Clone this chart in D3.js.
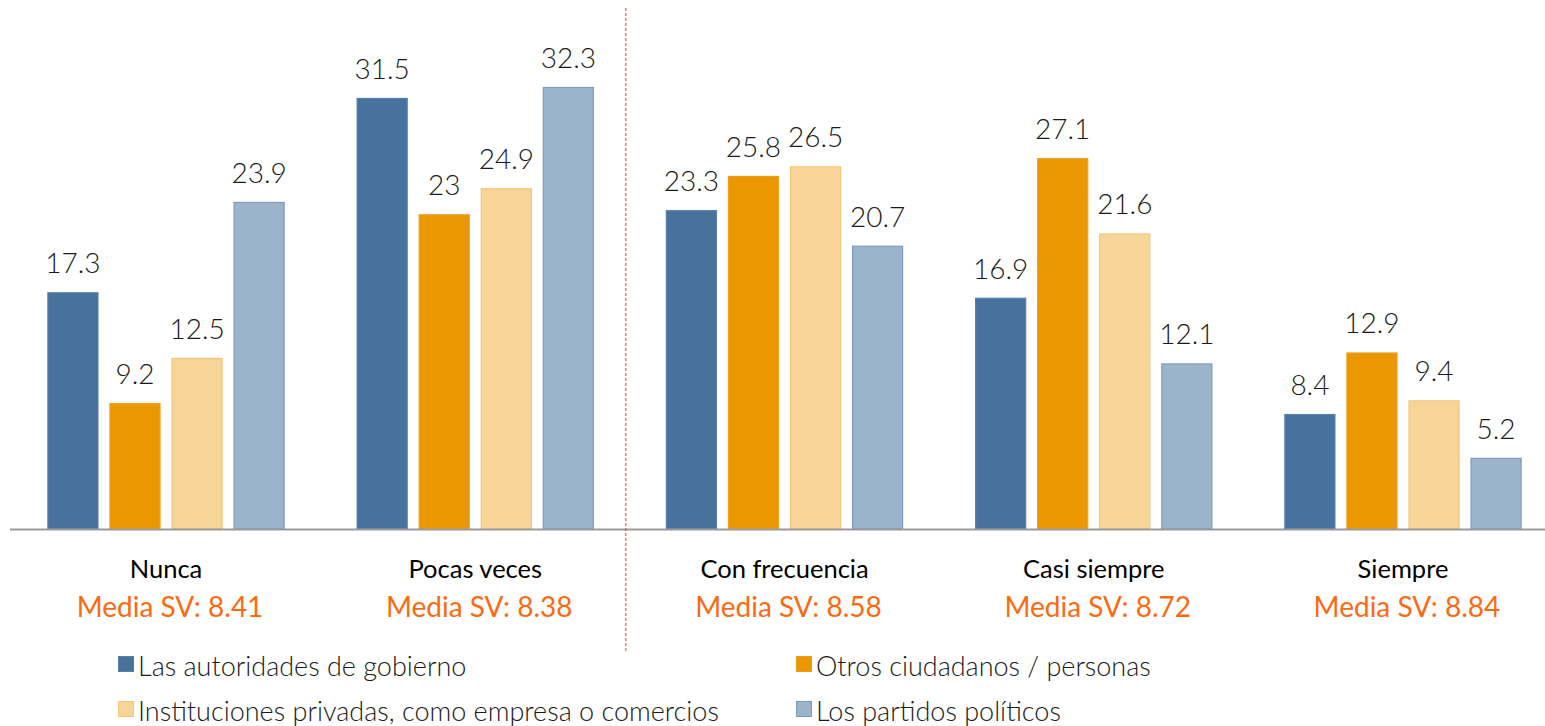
<!DOCTYPE html>
<html>
<head>
<meta charset="utf-8">
<script src="https://cdn.jsdelivr.net/npm/d3@7"></script>
<style>
  html, body { margin: 0; padding: 0; background: #fff; }
  svg { display: block; font-family: Lato, "Open Sans", sans-serif; }
</style>
</head>
<body>
<svg id="chart" width="1545" height="726"></svg>
<script>
// Response categories and the mean score shown under each one
const categories = ["Nunca", "Pocas veces", "Con frecuencia", "Casi siempre", "Siempre"];
const means = ["8.41", "8.38", "8.58", "8.72", "8.84"];

// Series (actors) and their percentages per category
const seriesNames = [
  "Las autoridades de gobierno",
  "Otros ciudadanos / personas",
  "Instituciones privadas, como empresa o comercios",
  "Los partidos políticos"
];
const gobierno    = [17.3, 31.5, 23.3, 16.9, 8.4];
const ciudadanos  = [9.2, 23, 25.8, 27.1, 12.9];
const privadas    = [12.5, 24.9, 26.5, 21.6, 9.4];
const partidos    = [23.9, 32.3, 20.7, 12.1, 5.2];
const seriesValues = [gobierno, ciudadanos, privadas, partidos];

const fills   = ["#48729e", "#eb9700", "#f7d498", "#9cb3cc"];
const strokes = ["#5a80aa", "#eda020", "#f3c77a", "#7f9bbb"];

const svg = d3.select("#chart");
const baseY = 529;

const x0 = d3.scaleBand().domain(categories).range([11.4, 1557.6]).paddingInner(0).paddingOuter(0);
const x1 = d3.scaleBand().domain(d3.range(seriesNames.length)).range([0, x0.bandwidth()])
  .paddingInner(0.177).paddingOuter(0.58);
const y = d3.scaleLinear().domain([0, 32.3]).range([baseY, 87]);

// Bars and value labels
const groups = svg.selectAll("g.cat").data(categories).join("g")
  .attr("class", "cat")
  .attr("transform", d => `translate(${x0(d)},0)`);

groups.each(function(cat, ci) {
  const g = d3.select(this);
  const rows = seriesValues.map((vals, si) => ({ si, v: vals[ci] }));
  g.selectAll("rect").data(rows).join("rect")
    .attr("x", d => x1(d.si) + 0.5)
    .attr("y", d => y(d.v) + 0.5)
    .attr("width", x1.bandwidth() - 1)
    .attr("height", d => baseY - y(d.v) - 0.5)
    .attr("fill", d => fills[d.si])
    .attr("stroke", d => strokes[d.si])
    .attr("stroke-width", 1.2);
  g.selectAll("text.val").data(rows).join("text")
    .attr("class", "val")
    .attr("x", d => x1(d.si) + x1.bandwidth() / 2)
    .attr("y", d => y(d.v) - 19)
    .attr("text-anchor", "middle")
    .attr("font-size", 28)
    .attr("font-weight", 300)
    .attr("fill", "#1a1a1a")
    .text(d => d.v);
});

// Baseline axis
svg.append("line")
  .attr("x1", 10).attr("x2", 1545)
  .attr("y1", baseY + 0.5).attr("y2", baseY + 0.5)
  .attr("stroke", "#9a9a9a").attr("stroke-width", 2);

// Category names and means
const labels = svg.selectAll("g.lab").data(categories).join("g")
  .attr("class", "lab")
  .attr("transform", d => `translate(${x0(d) + x0.bandwidth() / 2},0)`);
labels.append("text")
  .attr("y", 578)
  .attr("text-anchor", "middle")
  .attr("font-size", 25.5)
  .attr("font-weight", 400)
  .attr("fill", "#000")
  .text(d => d);
labels.append("text")
  .attr("x", 4)
  .attr("y", 617)
  .attr("text-anchor", "middle")
  .attr("font-size", 28)
  .attr("font-weight", 400)
  .attr("fill", "#fb6a12")
  .text((d, i) => `Media SV: ${means[i]}`);

// Dashed separator between the "low" and "high" frequency answers
const sepX = x0("Con frecuencia") - 4;
svg.append("line")
  .attr("x1", sepX).attr("x2", sepX)
  .attr("y1", 8).attr("y2", 652)
  .attr("stroke", "#ee3a28").attr("stroke-width", 1)
  .attr("stroke-dasharray", "3,2");

// Legend: two columns, two rows
const legendPos = [[118, 656], [796, 656], [118, 701], [796, 701]];
const legend = svg.selectAll("g.leg").data(seriesNames).join("g")
  .attr("class", "leg")
  .attr("transform", (d, i) => `translate(${legendPos[i][0]},${legendPos[i][1]})`);
legend.append("rect")
  .attr("x", 0.5).attr("y", 0.5).attr("width", 15).attr("height", 15)
  .attr("fill", (d, i) => fills[i])
  .attr("stroke", (d, i) => strokes[i]).attr("stroke-width", 1);
legend.append("text")
  .attr("x", 20).attr("y", 20)
  .attr("font-size", 27)
  .attr("font-weight", 300)
  .attr("fill", "#1a1a1a")
  .text(d => d);
</script>
</body>
</html>
